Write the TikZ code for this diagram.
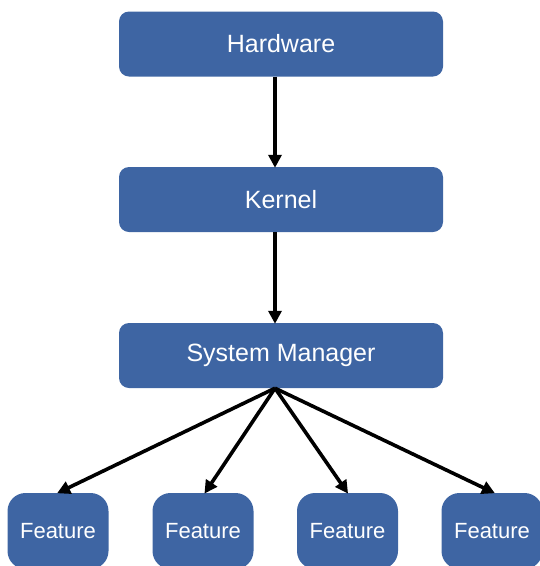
\documentclass[tikz,border=0pt]{standalone}
\usepackage{fontspec}
\setmainfont{Liberation Sans}
\usetikzlibrary{arrows.meta}
\definecolor{boxblue}{RGB}{62,101,163}
\tikzset{
  layer/.style={fill=boxblue, rounded corners=10pt, minimum width=324pt, minimum height=65pt,
    inner sep=0pt, text=white, font=\fontsize{25}{30}\selectfont},
  featbox/.style={fill=boxblue, rounded corners=18pt, minimum width=101pt, minimum height=76pt,
    inner sep=0pt, text=white, font=\fontsize{22}{26}\selectfont},
  link/.style={line width=3.6pt, -{Triangle[length=13pt,width=13pt]}, shorten >=-1pt}
}
\begin{document}
\begin{tikzpicture}[x=1pt,y=-1pt]
  \useasboundingbox (0,0) rectangle (540,566);
  % stacked layers
  \node[layer] (hw) at (281,44) {Hardware};
  \node[layer] (kn) at (281,199.5) {Kernel};
  \node[layer] (sm) at (281,355.5) {System Manager};
  % feature boxes, running off the bottom edge
  \node[featbox] (f1) at (58,531) {Feature};
  \node[featbox] (f2) at (203,531) {Feature};
  \node[featbox] (f3) at (347.5,531) {Feature};
  \node[featbox] (f4) at (492,531) {Feature};
  % connectors
  \draw[link] ([xshift=-6pt]hw.south) -- ([xshift=-6pt]kn.north);
  \draw[link] ([xshift=-6pt]kn.south) -- ([xshift=-6pt]sm.north);
  \coordinate (hub) at ([xshift=-6pt]sm.south);
  \draw[link] (hub) -- (f1.north);
  \draw[link] (hub) -- ([xshift=2pt]f2.north);
  \draw[link] (hub) -- (f3.north);
  \draw[link] (hub) -- ([xshift=2pt]f4.north);
\end{tikzpicture}
\end{document}
